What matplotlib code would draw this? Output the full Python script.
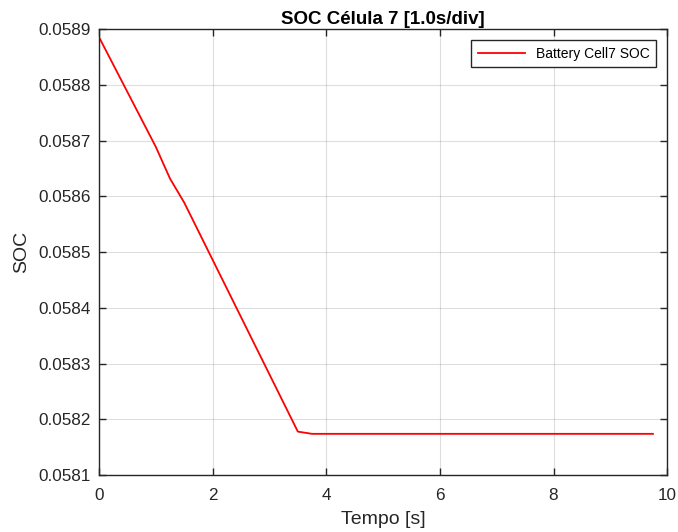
# SOC da célula 7 ao longo do tempo (estilo MATLAB)
import matplotlib
matplotlib.use('Agg')
import matplotlib.pyplot as plt

plt.rcParams['font.family'] = ['Liberation Sans', 'DejaVu Sans']

# dados
tempo = [0.0, 1.0, 1.25, 1.5, 3.5, 3.75, 9.75]
soc = [0.058886, 0.058689, 0.058632, 0.058589, 0.058178, 0.058174, 0.058174]
x_ticks = [0, 2, 4, 6, 8, 10]
y_ticks = [0.0581, 0.0582, 0.0583, 0.0584, 0.0585, 0.0586, 0.0587, 0.0588, 0.0589]

fig = plt.figure(figsize=(6.78, 5.32), dpi=100)
ax = fig.add_axes([0.146, 0.107, 0.838, 0.838])

ax.plot(tempo, soc, color='#ff0000', linewidth=1.3, label='Battery Cell7 SOC')

ax.set_xlim(0, 10)
ax.set_ylim(0.0581, 0.0589)
ax.set_xticks(x_ticks)
ax.set_yticks(y_ticks)
ax.set_yticklabels([f'{v:.4f}' for v in y_ticks])

ax.grid(True, color='#000000', alpha=0.13, linewidth=0.8)
ax.tick_params(direction='in', top=True, right=True, length=5, width=1,
               labelsize=12.3, colors='#262626')
ax.tick_params(axis='x', pad=9)
ax.tick_params(axis='y', pad=6)
for s in ax.spines.values():
    s.set_color('#262626')
    s.set_linewidth(1)

ax.set_title('SOC Célula 7 [1.0s/div]', fontsize=13.5, fontweight='bold', pad=4)
ax.set_xlabel('Tempo [s]', fontsize=14, color='#262626', labelpad=6)
ax.set_ylabel('SOC', fontsize=14, color='#262626', labelpad=6)

leg = ax.legend(loc='upper right', fontsize=10, fancybox=False, framealpha=1,
                edgecolor='#262626', borderpad=0.45, handlelength=3.4,
                borderaxespad=0.8)
leg.get_frame().set_linewidth(1)

plt.savefig('out.png', dpi=100)
